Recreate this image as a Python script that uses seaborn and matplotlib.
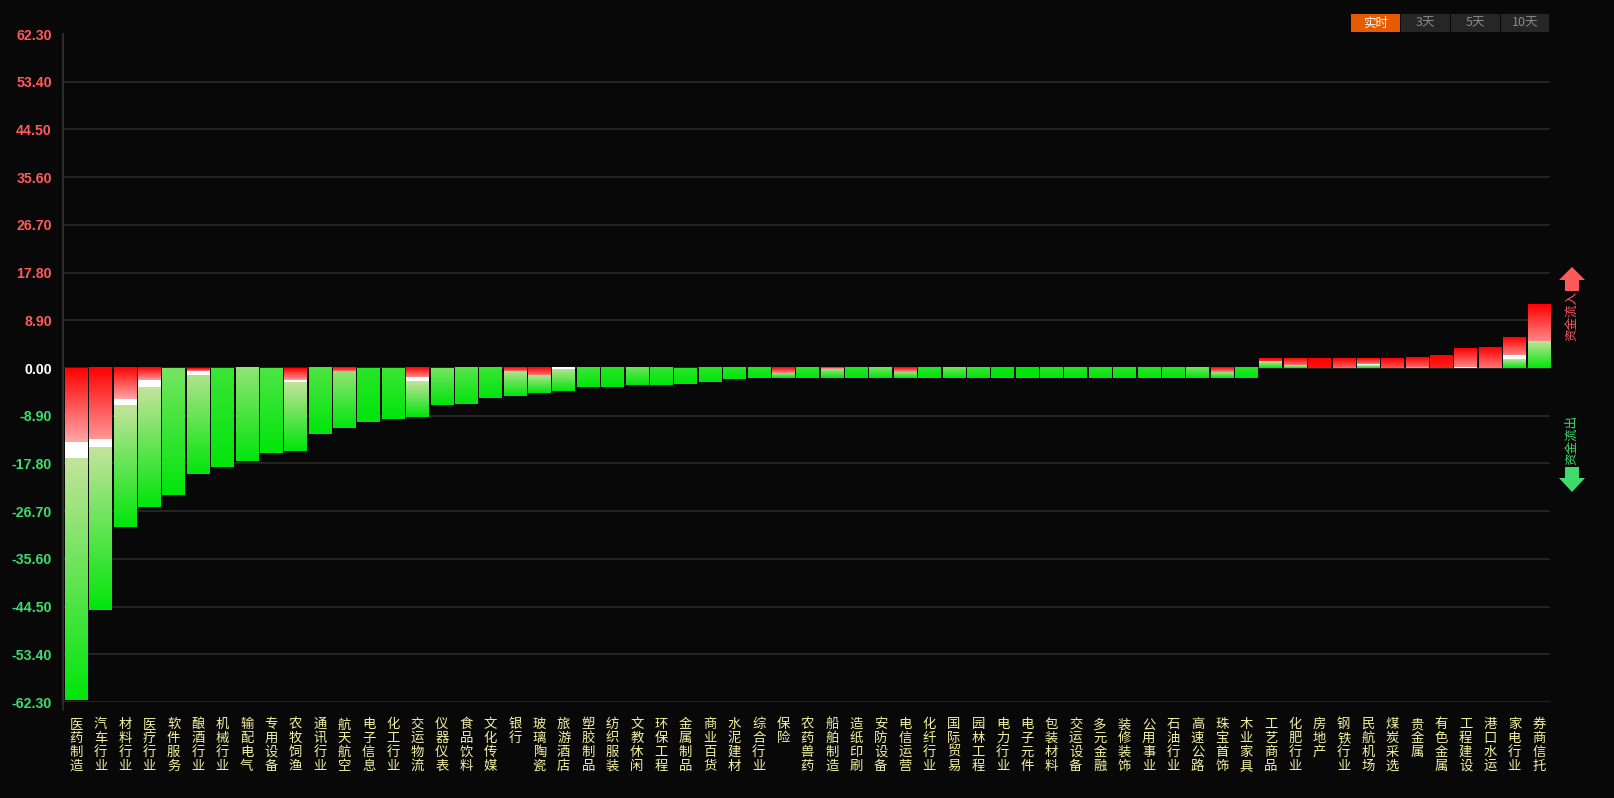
import numpy as np
import pandas as pd
import matplotlib
matplotlib.use("Agg")
import matplotlib.pyplot as plt
import seaborn as sns
from matplotlib.patches import Rectangle, Polygon

# ---------------- data ----------------
names = ["医药制造", "汽车行业", "材料行业", "医疗行业", "软件服务", "酿酒行业", "机械行业", "输配电气",
         "专用设备", "农牧饲渔", "通讯行业", "航天航空", "电子信息", "化工行业", "交运物流", "仪器仪表",
         "食品饮料", "文化传媒", "银行", "玻璃陶瓷", "旅游酒店", "塑胶制品", "纺织服装", "文教休闲",
         "环保工程", "金属制品", "商业百货", "水泥建材", "综合行业", "保险", "农药兽药", "船舶制造",
         "造纸印刷", "安防设备", "电信运营", "化纤行业", "国际贸易", "园林工程", "电力行业", "电子元件",
         "包装材料", "交运设备", "多元金融", "装修装饰", "公用事业", "石油行业", "高速公路", "珠宝首饰",
         "木业家具", "工艺商品", "化肥行业", "房地产", "钢铁行业", "民航机场", "煤炭采选", "贵金属",
         "有色金属", "工程建设", "港口水运", "家电行业", "券商信托"]

# net fund flow (亿)
net = [-61.9, -45.2, -29.7, -26.0, -23.6, -19.7, -18.4, -17.4,
       -15.8, -15.4, -12.4, -11.2, -10.0, -9.5, -9.2, -6.9,
       -6.8, -5.6, -5.3, -4.7, -4.3, -3.6, -3.6, -3.2,
       -3.2, -2.9, -2.7, -2.1, -1.9, -1.9, -1.9, -1.9,
       -1.9, -1.9, -1.9, -1.9, -1.9, -1.9, -1.9, -1.9,
       -1.9, -1.9, -1.9, -1.9, -1.9, -1.9, -1.9, -1.9,
       -1.9, 1.8, 1.8, 1.8, 1.8, 1.8, 1.8, 2.0,
       2.4, 3.7, 3.9, 5.7, 11.8]

# inflow (red) share of each bar, measured from the top of the bar
inflow_part = [13.8, 13.4, 6.0, 2.4, 0, 0.6, 0, 0,
               0, 2.2, 0, 0.7, 0, 0, 1.8, 0,
               0, 0, 0.7, 1.5, 0, 0, 0, 0,
               0, 0, 0, 0, 0, 1.0, 0, 0.3,
               0, 0, 0.8, 0, 0, 0, 0, 0,
               0, 0, 0, 0, 0, 0, 0, 0.9,
               0, 0.6, 1.3, 1.8, 1.8, 1.1, 1.8, 1.8,
               2.4, 3.5, 3.9, 3.4, 6.8]

# white separator band below the red part
white_part = [2.9, 1.5, 1.1, 1.3, 0, 0.6, 0, 0,
              0, 0.4, 0, 0, 0, 0, 0.8, 0,
              0, 0, 0, 0, 0.4, 0, 0, 0,
              0, 0, 0, 0, 0, 0, 0, 0,
              0, 0, 0, 0, 0, 0, 0, 0,
              0, 0, 0, 0, 0, 0, 0, 0,
              0, 0, 0, 0, 0, 0.2, 0, 0,
              0, 0.2, 0, 0.6, 0]

# how pale the red part gets at its lower end (0..1)
red_fade = [1.0, 0.9, 1.0, 0.9, 0, 0.8, 0, 0,
            0, 0.9, 0, 0.6, 0, 0, 0.8, 0,
            0, 0, 0.6, 0.7, 0, 0, 0, 0,
            0, 0, 0, 0, 0, 0.8, 0, 0.9,
            0, 0, 0.8, 0, 0, 0, 0, 0,
            0, 0, 0, 0, 0, 0, 0, 0.8,
            0, 0.3, 0.7, 0.1, 0.6, 0.7, 0.5, 0.6,
            0.2, 0.8, 0.7, 0.8, 0.8]

# how pale the green part is at its upper end (0..1)
green_fade = [1.0, 1.0, 1.0, 1.0, 0.6, 0.9, 0.3, 0.75,
              0.4, 1.0, 0.4, 0.75, 0.2, 0.3, 1.0, 0.6,
              0.45, 0.3, 0.9, 0.9, 0.9, 0.3, 0.2, 0.55,
              0.25, 0.2, 0.2, 0.2, 0.2, 0.8, 0.25, 0.8,
              0.2, 0.6, 0.8, 0.2, 0.6, 0.3, 0.05, 0.0,
              0.2, 0.2, 0.2, 0.2, 0.2, 0.2, 0.6, 0.8,
              0.2, 1.0, 1.0, 1.0, 1.0, 1.0, 1.0, 1.0,
              1.0, 1.0, 1.0, 1.0, 1.0]

yticks = [62.30, 53.40, 44.50, 35.60, 26.70, 17.80, 8.90, 0.00,
          -8.90, -17.80, -26.70, -35.60, -44.50, -53.40, -62.30]
buttons = ["实时", "3天", "5天", "10天"]
legend_in = "资金流入"
legend_out = "资金流出"

# ---------------- style ----------------
BG = "#080808"
GRID = "#2a2a2a"
POS_TXT = "#ff5a5a"
NEG_TXT = "#3ddc6c"
LBL_TXT = "#f4f0a0"
RED_SAT = np.array([1.0, 0.0, 0.0])
RED_PALE = np.array([1.0, 0.66, 0.66])
GREEN_SAT = np.array([0.0, 0.90, 0.04])
GREEN_PALE = np.array([0.77, 0.89, 0.61])
WHITE = np.array([1.0, 1.0, 1.0])

sns.set_theme(style="dark")
plt.rcParams["font.family"] = ["Noto Sans CJK SC", "DejaVu Sans"]

W, H = 1615, 798
fig = plt.figure(figsize=(W / 100, H / 100), dpi=100, facecolor=BG)


def fx(px):
    return px / W


def fy(py):
    return 1 - py / H


ax = fig.add_axes([fx(63), fy(702), (1550 - 63) / W, (702 - 34) / H])
ax.set_facecolor(BG)

BAR_W = 0.92
df = pd.DataFrame({"name": names, "net": net})
sns.barplot(data=df, x="name", y="net", ax=ax, color=BG, width=BAR_W,
            saturation=1, linewidth=0, edgecolor="none", zorder=2)

# gradient fill of each seaborn bar
N = 600
for i, patch in enumerate(ax.patches[:len(names)]):
    x0 = patch.get_x()
    w = patch.get_width()
    y0 = patch.get_y()
    h = patch.get_height()
    top = max(y0, y0 + h)
    bot = min(y0, y0 + h)
    L = top - bot
    r = min(inflow_part[i], L)
    wg = min(white_part[i], L - r)
    g = L - r - wg
    d = (np.arange(N) + 0.5) / N * L
    col = np.zeros((N, 3))
    gtop = GREEN_SAT + (GREEN_PALE - GREEN_SAT) * green_fade[i]
    for k, dk in enumerate(d):
        if dk < r:
            t = red_fade[i] * dk / r
            col[k] = RED_SAT + (RED_PALE - RED_SAT) * t
        elif dk < r + wg:
            col[k] = WHITE
        else:
            t = (dk - r - wg) / g if g > 0 else 1
            col[k] = gtop + (GREEN_SAT - gtop) * t
    img = np.repeat(col[:, None, :], 2, axis=1)
    ax.imshow(img, extent=[x0, x0 + w, bot, top], aspect="auto",
              origin="upper", interpolation="nearest", zorder=3)

half = BAR_W / 2
ax.set_xlim(-half - 0.08, len(names) - 1 + half)
ax.set_ylim(-62.3, 62.3)

# grid
ax.grid(False)
for t in yticks:
    if abs(t - 62.3) > 1e-6:
        ax.axhline(t, color=GRID, lw=1.2, zorder=1)

for s in ["top", "right", "bottom"]:
    ax.spines[s].set_visible(False)
ax.spines["left"].set_color("#2e2e2e")
ax.spines["left"].set_linewidth(1.2)
ax.plot([0, 0], [-0.012, 1.0], transform=ax.transAxes, color="#2e2e2e",
        lw=1.2, clip_on=False, zorder=1)

ax.set_yticks(yticks)
ax.set_yticklabels([f"{t:.2f}" for t in yticks], fontfamily="Liberation Sans",
                   fontweight="bold", fontsize=10.2)
for lab, t in zip(ax.get_yticklabels(), yticks):
    lab.set_color(POS_TXT if t > 0 else (NEG_TXT if t < 0 else "white"))
ax.tick_params(axis="y", length=0, pad=8)

ax.set_xticks(range(len(names)))
ax.set_xticklabels(["\n".join(n) for n in names], fontsize=9.6, color=LBL_TXT,
                   linespacing=0.98, va="top")
ax.tick_params(axis="x", length=0, pad=11)
ax.set_xlabel("")
ax.set_ylabel("")

# buttons
bx = [1351, 1401, 1451, 1501]
bw = [49, 49, 49, 48]
for k, (lab, x, wdt) in enumerate(zip(buttons, bx, bw)):
    fc = "#e65a00" if k == 0 else "#262626"
    tc = "white" if k == 0 else "#8a8a8a"
    fig.add_artist(Rectangle((fx(x), fy(32)), wdt / W, 18 / H, transform=fig.transFigure,
                             facecolor=fc, edgecolor="none"))
    fig.text(fx(x + wdt / 2), fy(23), lab, color=tc, fontsize=9, ha="center", va="center",
             family=["Noto Sans CJK SC", "DejaVu Sans"])

# legend arrows
up = [(1559, 280), (1572, 267), (1585, 280), (1579, 280), (1579, 291), (1565, 291), (1565, 280)]
fig.add_artist(Polygon([(fx(a), fy(b)) for a, b in up], closed=True, transform=fig.transFigure,
                       facecolor=POS_TXT, edgecolor="none"))
down = [(1565, 467), (1579, 467), (1579, 478), (1585, 478), (1572, 492), (1559, 478), (1565, 478)]
fig.add_artist(Polygon([(fx(a), fy(b)) for a, b in down], closed=True, transform=fig.transFigure,
                       facecolor=NEG_TXT, edgecolor="none"))
fig.text(fx(1572), fy(316), legend_in, rotation=90, color=POS_TXT, fontsize=9,
         ha="center", va="center")
fig.text(fx(1572), fy(440), legend_out, rotation=90, color=NEG_TXT, fontsize=9,
         ha="center", va="center")

fig.savefig("out.png", dpi=100, facecolor=BG)
